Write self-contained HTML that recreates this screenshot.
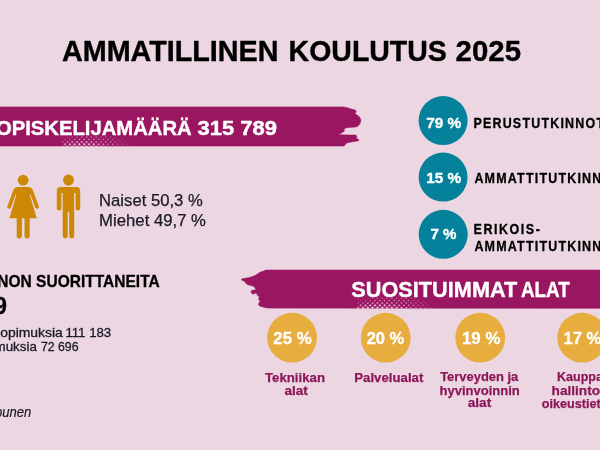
<!DOCTYPE html>
<html lang="fi">
<head>
<meta charset="utf-8">
<title>Ammatillinen koulutus 2025</title>
<style>
html,body{margin:0;padding:0;background:#ecd6e2;}
body{width:600px;height:450px;overflow:hidden;}
svg{display:block;font-family:"Liberation Sans", sans-serif;}
</style>
</head>
<body>
<svg width="600" height="450" viewBox="0 0 600 450" role="img" aria-label="Ammatillinen koulutus 2025">
<rect width="600" height="450" fill="#ecd6e2"/>
<defs>
<pattern id="dotS" width="3.4" height="3.4" patternUnits="userSpaceOnUse" patternTransform="rotate(45)">
<circle cx="1.7" cy="1.7" r="0.75" fill="#eaa0cd"/>
</pattern>
<pattern id="dotL" width="3.4" height="3.4" patternUnits="userSpaceOnUse" patternTransform="rotate(45)">
<circle cx="1.7" cy="1.7" r="1.15" fill="#f4cfe5"/>
</pattern>
<radialGradient id="fadeS" cx="0.42" cy="1" r="0.62" gradientTransform="translate(0 1) scale(1 1.9) translate(0 -1)">
<stop offset="0" stop-color="#fff" stop-opacity="1"/>
<stop offset="0.55" stop-color="#fff" stop-opacity="0.9"/>
<stop offset="1" stop-color="#fff" stop-opacity="0"/>
</radialGradient>
<radialGradient id="fadeL" cx="0.28" cy="1" r="0.42" gradientTransform="translate(0 1) scale(1 1.3) translate(0 -1)">
<stop offset="0" stop-color="#fff" stop-opacity="1"/>
<stop offset="0.5" stop-color="#fff" stop-opacity="0.8"/>
<stop offset="1" stop-color="#fff" stop-opacity="0"/>
</radialGradient>
<mask id="m1s"><rect x="62" y="134" width="68" height="13" fill="url(#fadeS)"/></mask>
<mask id="m1l"><rect x="62" y="134" width="68" height="13" fill="url(#fadeL)"/></mask>
<mask id="m2s"><rect x="357" y="295" width="78" height="14.5" fill="url(#fadeS)"/></mask>
<mask id="m2l"><rect x="357" y="295" width="78" height="14.5" fill="url(#fadeL)"/></mask>
</defs>
<!-- banner 1 -->
<path fill="#9a1661" stroke="#9a1661" stroke-width="0.6" stroke-linejoin="round" d="M-2,106.9 L342.4,106.9 L346.7,107.5 L350.3,108.8 L353.4,109.6 L355.5,110.2 L356.2,111.7 L355.0,113.6 L357.0,115.1 L359.5,116.9 L360.7,119.4 L360.7,121.8 L359.5,124.3 L357.7,126.4 L355.2,127.1 L351.5,127.3 L346.7,127.7 L344.8,128.5 L343.6,130.0 L344.8,130.7 L343.0,132.0 L340.5,133.4 L337.9,134.4 L340.5,134.7 L345.4,134.9 L350.3,135.0 L355.8,135.0 L356.8,136.5 L356.4,138.3 L358.3,139.3 L358.9,140.4 L357.0,141.1 L352.8,141.7 L347.9,142.6 L346.0,143.5 L344.8,145.0 L344.2,146.0 L-2,146.0 Z"/>
<rect x="62" y="134" width="68" height="13" fill="url(#dotS)" mask="url(#m1s)"/>
<rect x="62" y="134" width="68" height="13" fill="url(#dotL)" mask="url(#m1l)"/>
<!-- banner 2 -->
<path fill="#9a1661" stroke="#9a1661" stroke-width="0.6" stroke-linejoin="round" d="M602,270.1 L265.6,270.1 L264.1,270.9 L262.0,271.6 L260.0,272.3 L257.9,273.7 L255.9,275.0 L253.9,276.0 L251.3,277.0 L248.2,277.8 L245.2,278.3 L242.6,278.8 L241.1,279.5 L242.6,280.5 L244.6,281.3 L245.7,282.9 L247.2,284.4 L249.8,285.2 L252.8,285.9 L254.9,287.5 L255.9,289.3 L254.9,290.0 L253.3,290.0 L251.8,290.6 L250.8,291.8 L251.8,293.4 L253.3,294.1 L254.9,293.6 L255.9,292.8 L256.9,294.1 L257.9,295.9 L259.5,296.7 L259.0,297.7 L258.5,299.2 L260.0,300.8 L259.5,302.3 L258.5,303.9 L259.0,305.4 L261.0,306.4 L264.6,307.4 L267.7,308.1 L602,308.3 Z"/>

<rect x="357" y="295" width="78" height="14.5" fill="url(#dotS)" mask="url(#m2s)"/>
<rect x="357" y="295" width="78" height="14.5" fill="url(#dotL)" mask="url(#m2l)"/>
<!-- teal circles -->
<circle cx="443.1" cy="120.6" r="24.5" fill="#06819b"/>
<circle cx="443.1" cy="177.1" r="24.5" fill="#06819b"/>
<circle cx="443.2" cy="234.3" r="24.5" fill="#06819b"/>
<!-- yellow circles -->
<circle cx="292.1" cy="337.7" r="24.9" fill="#e7ae3f"/>
<circle cx="385.7" cy="337.7" r="24.9" fill="#e7ae3f"/>
<circle cx="480.2" cy="337.7" r="24.9" fill="#e7ae3f"/>
<circle cx="582.2" cy="337.7" r="24.9" fill="#e7ae3f"/>
<!-- woman -->
<g fill="#cd8905">
<circle cx="23.1" cy="180.2" r="5.4"/>
<path d="M17.6,187 L28.6,187 Q31.6,187 32.7,189.8 L38.9,206.4 Q39.3,208.2 37.7,208.8 Q36.1,209.2 35.2,207.4 L30.6,194.6 L29.9,194.8 L36.7,218.2 L29.7,218.2 L29.7,236 Q29.7,238.4 27.1,238.4 Q24.5,238.4 24.5,236 L24.5,218.2 L21.9,218.2 L21.9,236 Q21.9,238.4 19.3,238.4 Q16.7,238.4 16.7,236 L16.7,218.2 L9.4,218.2 L16.3,194.8 L15.6,194.6 L11,207.4 Q10.1,209.2 8.5,208.8 Q6.9,208.2 7.3,206.4 L13.5,189.8 Q14.6,187 17.6,187 Z"/>
<!-- man -->
<circle cx="68.5" cy="180.1" r="5.5"/>
<path d="M60.6,186.9 L76.4,186.9 Q80.2,186.9 80.2,190.7 L80.2,208.3 Q80.2,210.5 77.9,210.5 Q75.6,210.5 75.6,208.3 L75.6,193 L74.2,193 L74.2,236 Q74.2,238.4 71.7,238.4 Q69.2,238.4 69.2,236 L69.2,212 L67.7,212 L67.7,236 Q67.7,238.4 65.2,238.4 Q62.7,238.4 62.7,236 L62.7,193 L61.4,193 L61.4,208.3 Q61.4,210.5 59.1,210.5 Q56.8,210.5 56.8,208.3 L56.8,190.7 Q56.8,186.9 60.6,186.9 Z"/>
</g>

<text x="62.0" y="61.0" font-size="30" font-weight="700" fill="#000" stroke="#000" stroke-width="0.4" stroke-linejoin="round" textLength="216.5" lengthAdjust="spacingAndGlyphs">AMMATILLINEN</text>
<text x="288.6" y="61.0" font-size="30" font-weight="700" fill="#000" stroke="#000" stroke-width="0.4" stroke-linejoin="round" textLength="158.2" lengthAdjust="spacingAndGlyphs">KOULUTUS</text>
<text x="455.6" y="61.0" font-size="30" font-weight="700" fill="#000" stroke="#000" stroke-width="0.4" stroke-linejoin="round" textLength="65.4" lengthAdjust="spacingAndGlyphs">2025</text>
<text x="191.7" y="135.3" font-size="21" font-weight="700" fill="#fff" text-anchor="end" stroke="#fff" stroke-width="0.4" stroke-linejoin="round" textLength="195.7" lengthAdjust="spacingAndGlyphs">OPISKELIJAMÄÄRÄ</text>
<text x="197.5" y="135.3" font-size="21" font-weight="700" fill="#fff" stroke="#fff" stroke-width="0.4" stroke-linejoin="round" textLength="79.5" lengthAdjust="spacingAndGlyphs">315 789</text>
<text x="99.1" y="205.7" font-size="15.7" font-weight="400" fill="#1a1a26" stroke="#1a1a26" stroke-width="0.25" stroke-linejoin="round" textLength="103.6" lengthAdjust="spacingAndGlyphs">Naiset 50,3 %</text>
<text x="99.1" y="225.9" font-size="15.7" font-weight="400" fill="#1a1a26" stroke="#1a1a26" stroke-width="0.25" stroke-linejoin="round" textLength="106.9" lengthAdjust="spacingAndGlyphs">Miehet 49,7 %</text>
<text x="159.7" y="287.0" font-size="16.7" font-weight="700" fill="#000" text-anchor="end" stroke="#000" stroke-width="0.3" stroke-linejoin="round" textLength="219.3" lengthAdjust="spacingAndGlyphs">TUTKINNON SUORITTANEITA</text>
<text x="7.0" y="314.0" font-size="23.5" font-weight="700" fill="#000" text-anchor="end" stroke="#000" stroke-width="0.4" stroke-linejoin="round" textLength="80.7" lengthAdjust="spacingAndGlyphs">184 879</text>
<text x="62.8" y="337.0" font-size="12.6" font-weight="400" fill="#1a1a26" text-anchor="end" stroke="#1a1a26" stroke-width="0.3" stroke-linejoin="round" textLength="95.9" lengthAdjust="spacingAndGlyphs">oppisopimuksia</text>
<text x="65.4" y="337.0" font-size="12.6" font-weight="400" fill="#1a1a26" stroke="#1a1a26" stroke-width="0.3" stroke-linejoin="round" textLength="45.8" lengthAdjust="spacingAndGlyphs">111 183</text>
<text x="36.8" y="351.0" font-size="12.6" font-weight="400" fill="#1a1a26" text-anchor="end" stroke="#1a1a26" stroke-width="0.3" stroke-linejoin="round" textLength="116.5" lengthAdjust="spacingAndGlyphs">koulutussopimuksia</text>
<text x="40.9" y="351.0" font-size="12.6" font-weight="400" fill="#1a1a26" stroke="#1a1a26" stroke-width="0.3" stroke-linejoin="round" textLength="37.6" lengthAdjust="spacingAndGlyphs">72 696</text>
<text x="31.2" y="417.3" font-size="14.5" font-weight="400" fill="#1a1a26" text-anchor="end" stroke="#1a1a26" stroke-width="0.2" stroke-linejoin="round" font-style="italic" textLength="91.2" lengthAdjust="spacingAndGlyphs">Lähde: Vipunen</text>
<text x="426.2" y="127.5" font-size="15.5" font-weight="700" fill="#fff" stroke="#fff" stroke-width="0.35" stroke-linejoin="round" textLength="35.1" lengthAdjust="spacingAndGlyphs">79 %</text>
<text x="426.2" y="182.5" font-size="15.5" font-weight="700" fill="#fff" stroke="#fff" stroke-width="0.35" stroke-linejoin="round" textLength="35.0" lengthAdjust="spacingAndGlyphs">15 %</text>
<text x="430.4" y="238.7" font-size="15.5" font-weight="700" fill="#fff" stroke="#fff" stroke-width="0.35" stroke-linejoin="round" textLength="26.0" lengthAdjust="spacingAndGlyphs">7 %</text>
<text transform="translate(473.4 128.2) scale(0.855 1)" letter-spacing="1.40" font-size="14.6" font-weight="700" fill="#000" stroke="#000" stroke-width="0.3" stroke-linejoin="round">PERUSTUTKINNOT</text>
<text transform="translate(474.4 182.7) scale(0.855 1)" letter-spacing="1.40" font-size="14.6" font-weight="700" fill="#000" stroke="#000" stroke-width="0.3" stroke-linejoin="round">AMMATTITUTKINNOT</text>
<text transform="translate(473.6 233.6) scale(0.855 1)" letter-spacing="1.81" font-size="14.6" font-weight="700" fill="#000" stroke="#000" stroke-width="0.3" stroke-linejoin="round">ERIKOIS-</text>
<text transform="translate(474.4 250.8) scale(0.855 1)" letter-spacing="1.40" font-size="14.6" font-weight="700" fill="#000" stroke="#000" stroke-width="0.3" stroke-linejoin="round">AMMATTITUTKINNOT</text>
<text x="351.3" y="296.8" font-size="22.6" font-weight="700" fill="#fff" stroke="#fff" stroke-width="0.4" stroke-linejoin="round" textLength="166.0" lengthAdjust="spacingAndGlyphs">SUOSITUIMMAT</text>
<text x="521.0" y="296.8" font-size="22.6" font-weight="700" fill="#fff" stroke="#fff" stroke-width="0.4" stroke-linejoin="round" textLength="48.8" lengthAdjust="spacingAndGlyphs">ALAT</text>
<text x="273.3" y="343.8" font-size="16" font-weight="700" fill="#fff" stroke="#fff" stroke-width="0.3" stroke-linejoin="round" textLength="38.4" lengthAdjust="spacingAndGlyphs">25 %</text>
<text x="366.7" y="343.8" font-size="16" font-weight="700" fill="#fff" stroke="#fff" stroke-width="0.3" stroke-linejoin="round" textLength="37.6" lengthAdjust="spacingAndGlyphs">20 %</text>
<text x="462.0" y="343.8" font-size="16" font-weight="700" fill="#fff" stroke="#fff" stroke-width="0.3" stroke-linejoin="round" textLength="38.4" lengthAdjust="spacingAndGlyphs">19 %</text>
<text x="563.4" y="343.8" font-size="16" font-weight="700" fill="#fff" stroke="#fff" stroke-width="0.3" stroke-linejoin="round" textLength="37.9" lengthAdjust="spacingAndGlyphs">17 %</text>
<text x="265.0" y="381.7" font-size="13.7" font-weight="700" fill="#8c1758" stroke="#8c1758" stroke-width="0.25" stroke-linejoin="round" textLength="60.0" lengthAdjust="spacingAndGlyphs">Tekniikan</text>
<text x="284.5" y="394.6" font-size="13.7" font-weight="700" fill="#8c1758" stroke="#8c1758" stroke-width="0.25" stroke-linejoin="round" textLength="23.3" lengthAdjust="spacingAndGlyphs">alat</text>
<text x="354.3" y="381.7" font-size="13.7" font-weight="700" fill="#8c1758" stroke="#8c1758" stroke-width="0.25" stroke-linejoin="round" textLength="69.0" lengthAdjust="spacingAndGlyphs">Palvelualat</text>
<text x="440.2" y="381.4" font-size="13.7" font-weight="700" fill="#8c1758" stroke="#8c1758" stroke-width="0.25" stroke-linejoin="round" textLength="78.1" lengthAdjust="spacingAndGlyphs">Terveyden ja</text>
<text x="439.5" y="394.6" font-size="13.7" font-weight="700" fill="#8c1758" stroke="#8c1758" stroke-width="0.25" stroke-linejoin="round" textLength="80.3" lengthAdjust="spacingAndGlyphs">hyvinvoinnin</text>
<text x="467.7" y="407.4" font-size="13.7" font-weight="700" fill="#8c1758" stroke="#8c1758" stroke-width="0.25" stroke-linejoin="round" textLength="23.6" lengthAdjust="spacingAndGlyphs">alat</text>
<text x="557.0" y="381.4" font-size="13.7" font-weight="700" fill="#8c1758" stroke="#8c1758" stroke-width="0.25" stroke-linejoin="round" textLength="49.4" lengthAdjust="spacingAndGlyphs">Kauppa,</text>
<text x="551.6" y="394.6" font-size="13.7" font-weight="700" fill="#8c1758" stroke="#8c1758" stroke-width="0.25" stroke-linejoin="round" textLength="63.6" lengthAdjust="spacingAndGlyphs">hallinto ja</text>
<text x="541.7" y="407.7" font-size="13.7" font-weight="700" fill="#8c1758" stroke="#8c1758" stroke-width="0.25" stroke-linejoin="round" textLength="77.4" lengthAdjust="spacingAndGlyphs">oikeustieteet</text>
</svg>
</body>
</html>
